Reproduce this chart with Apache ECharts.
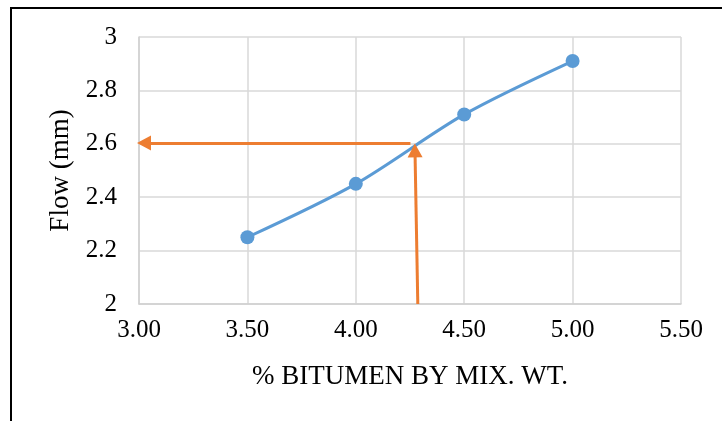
<!DOCTYPE html>
<html>
<head>
<meta charset="utf-8">
<script src="https://cdn.jsdelivr.net/npm/echarts@6/dist/echarts.min.js"></script>
<style>html,body{margin:0;padding:0;background:#fff;}#c{width:722px;height:421px;}</style>
</head>
<body>
<div id="c"></div>
<script>
const bitumen = [3.5, 4.0, 4.5, 5.0];
const flow = [2.25, 2.45, 2.71, 2.91];
const xTicks = ['3.00','3.50','4.00','4.50','5.00','5.50'];
const yTicks = ['2','2.2','2.4','2.6','2.8','3'];
// orange guide arrows: [startX, startY, endX, endY] (end = arrowhead centre)
const arrowHoriz = [4.252, 2.603, 3.023, 2.603];
const arrowVert = [4.286, 2.0, 4.273, 2.575];

const chart = echarts.init(document.getElementById('c'), null, {renderer:'canvas'});
const font = '"Liberation Serif", "Times New Roman", serif';
chart.setOption({
  animation: false,
  backgroundColor: '#fff',
  grid: {left: 139, right: 41, top: 37, bottom: 117},
  xAxis: {
    type: 'value', min: 3, max: 5.5, interval: 0.5,
    name: '% BITUMEN BY MIX. WT.', nameLocation: 'middle', nameGap: 59,
    nameTextStyle: {fontFamily: font, fontSize: 27, color: '#000'},
    axisLine: {show: true, lineStyle: {color: '#d0d0d0', width: 1.5}},
    axisTick: {show: false},
    splitLine: {show: true, lineStyle: {color: '#d9d9d9', width: 1.5}},
    axisLabel: {fontFamily: font, fontSize: 25, color: '#000', margin: 14,
      formatter: v => xTicks[Math.round((v - 3) / 0.5)]}
  },
  yAxis: {
    type: 'value', min: 2, max: 3, interval: 0.2,
    name: 'Flow (mm)', nameLocation: 'middle', nameGap: 64, nameRotate: 90,
    nameTextStyle: {fontFamily: font, fontSize: 27, color: '#000'},
    axisLine: {show: true, lineStyle: {color: '#d0d0d0', width: 1.5}},
    axisTick: {show: false},
    splitLine: {show: true, lineStyle: {color: '#d9d9d9', width: 1.5}},
    axisLabel: {fontFamily: font, fontSize: 25, color: '#000', margin: 22,
      formatter: v => yTicks[Math.round((v - 2) / 0.2)]}
  },
  series: [{
    type: 'line',
    data: bitumen.map((x, i) => [x, flow[i]]),
    smooth: 0.3,
    symbol: 'circle', symbolSize: 14,
    lineStyle: {color: '#5B9BD5', width: 3},
    itemStyle: {color: '#5B9BD5'},
    z: 3,
    clip: false,
    markLine: {
      silent: true,
      symbol: ['none', 'triangle'],
      symbolSize: [15, 14],
      label: {show: false},
      lineStyle: {color: '#ED7D31', width: 3, type: 'solid', opacity: 1},
      itemStyle: {color: '#ED7D31'},
      emphasis: {disabled: true},
      data: [
        [{coord: [arrowHoriz[0], arrowHoriz[1]]}, {coord: [arrowHoriz[2], arrowHoriz[3]]}],
        [{coord: [arrowVert[0], arrowVert[1]]}, {coord: [arrowVert[2], arrowVert[3]]}]
      ]
    }
  }],
  graphic: [{
    type: 'polyline', silent: true,
    shape: {points: [[11, 421], [11, 8], [722, 8]]},
    style: {stroke: '#000', lineWidth: 2, fill: null}
  }]
});
</script>
</body>
</html>
